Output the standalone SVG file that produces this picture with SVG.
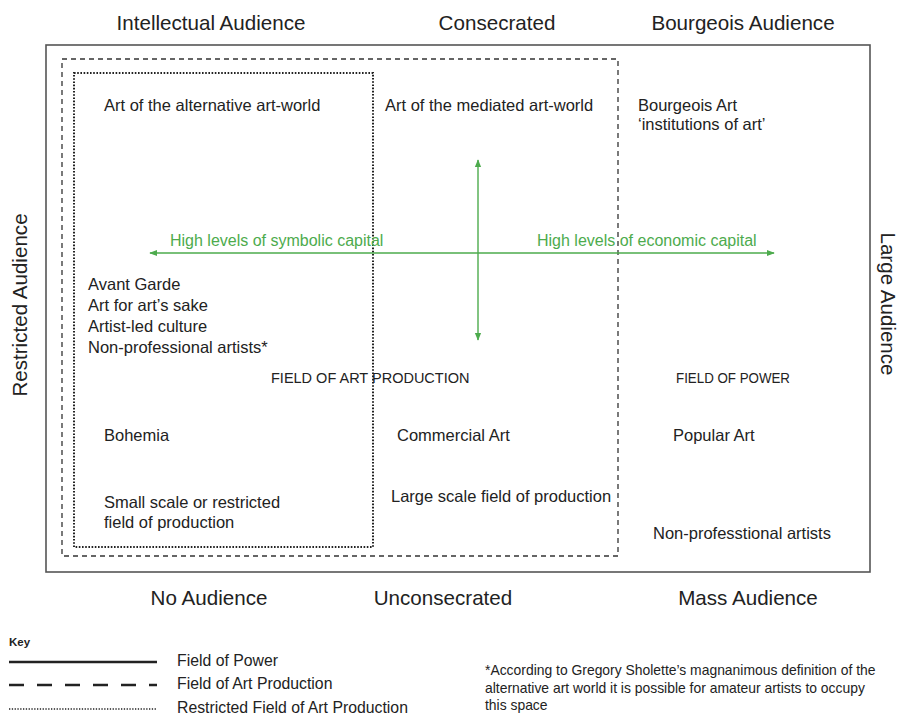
<svg xmlns="http://www.w3.org/2000/svg" width="907" height="719" viewBox="0 0 907 719">
<defs>
<style>
text{font-family:"Liberation Sans",Arial,sans-serif;fill:#222}
.big{font-size:20.6px}
.mid{font-size:16.5px}
.caps{font-size:14.5px}
.key{font-size:15.8px}
.note{font-size:13.9px}
.green{fill:#4dab4d;font-size:16px}
.ax{stroke:#4dab4d;stroke-width:1.4;fill:none}
</style>
<marker id="ah" viewBox="0 0 10 10" refX="9" refY="5" markerWidth="8" markerHeight="8" orient="auto-start-reverse" markerUnits="userSpaceOnUse">
<path d="M0,1 L10,5 L0,9 z" fill="#4dab4d"/>
</marker>
</defs>
<rect width="907" height="719" fill="#fff"/>
<g id="field-of-power">
<rect x="46" y="45" width="824" height="527" fill="none" stroke="#555" stroke-width="1.6"/>
</g>
<g id="field-of-art-production">
<rect x="62" y="59" width="556" height="497" fill="none" stroke="#333" stroke-width="1.3" stroke-dasharray="5 4"/>
</g>
<g id="restricted-field">
<rect x="74" y="73" width="299" height="474" fill="none" stroke="#222" stroke-width="2" stroke-dasharray="1.6 1.6"/>
</g>
<g id="connectors">
<line class="ax" x1="150" y1="253" x2="774" y2="253" marker-start="url(#ah)" marker-end="url(#ah)"/>
<line class="ax" x1="478" y1="160" x2="478" y2="340" marker-start="url(#ah)" marker-end="url(#ah)"/>
</g>
<g id="axis-labels">
<text class="big" x="211" y="30" text-anchor="middle">Intellectual Audience</text>
<text class="big" x="497" y="30" text-anchor="middle">Consecrated</text>
<text class="big" x="743" y="30" text-anchor="middle">Bourgeois Audience</text>
<text class="big" x="209" y="605" text-anchor="middle">No Audience</text>
<text class="big" x="443" y="605" text-anchor="middle">Unconsecrated</text>
<text class="big" x="748" y="605" text-anchor="middle">Mass Audience</text>
<text class="big" transform="translate(27,305) rotate(-90)" text-anchor="middle">Restricted Audience</text>
<text class="big" transform="translate(881,304) rotate(90)" text-anchor="middle">Large Audience</text>
</g>
<g id="capital-labels">
<text class="green" x="170" y="246">High levels of symbolic capital</text>
<text class="green" x="537" y="246">High levels of economic capital</text>
</g>
<g id="node-alternative"><text class="mid" x="104" y="111">Art of the alternative art-world</text></g>
<g id="node-mediated"><text class="mid" x="385" y="111">Art of the mediated art-world</text></g>
<g id="node-bourgeois"><text class="mid" x="638" y="111">Bourgeois Art</text><text class="mid" x="638" y="130">‘institutions of art’</text></g>
<g id="node-avant-garde">
<text class="mid" x="88" y="290">Avant Garde</text>
<text class="mid" x="88" y="311">Art for art’s sake</text>
<text class="mid" x="88" y="332">Artist-led culture</text>
<text class="mid" x="88" y="353">Non-professional artists*</text>
</g>
<g id="node-fap"><text class="caps" x="271" y="383">FIELD OF ART PRODUCTION</text></g>
<g id="node-fop"><text class="caps" x="676" y="383" textLength="114" lengthAdjust="spacingAndGlyphs">FIELD OF POWER</text></g>
<g id="node-bohemia"><text class="mid" x="104" y="441">Bohemia</text></g>
<g id="node-commercial"><text class="mid" x="397" y="441">Commercial Art</text></g>
<g id="node-popular"><text class="mid" x="673" y="441">Popular Art</text></g>
<g id="node-small-scale"><text class="mid" x="104" y="508">Small scale or restricted</text><text class="mid" x="104" y="528">field of production</text></g>
<g id="node-large-scale"><text class="mid" x="391" y="502">Large scale field of production</text></g>
<g id="node-nonprof"><text class="mid" x="653" y="539">Non-professtional artists</text></g>
<g id="key">
<text x="9" y="646" style="font-size:11.5px;font-weight:bold">Key</text>
<line x1="9" y1="662" x2="157" y2="662" stroke="#222" stroke-width="2.5"/>
<line x1="9" y1="685" x2="157" y2="685" stroke="#222" stroke-width="2.5" stroke-dasharray="15 13"/>
<line x1="9" y1="709" x2="157" y2="709" stroke="#222" stroke-width="1.5" stroke-dasharray="1.3 1.5"/>
<text class="key" x="177" y="666">Field of Power</text>
<text class="key" x="177" y="689">Field of Art Production</text>
<text class="key" x="177" y="713">Restricted Field of Art Production</text>
<text class="note" x="485" y="675">*According to Gregory Sholette’s magnanimous definition of the</text>
<text class="note" x="485" y="692.5">alternative art world it is possible for amateur artists to occupy</text>
<text class="note" x="485" y="710">this space</text>
</g>
</svg>
